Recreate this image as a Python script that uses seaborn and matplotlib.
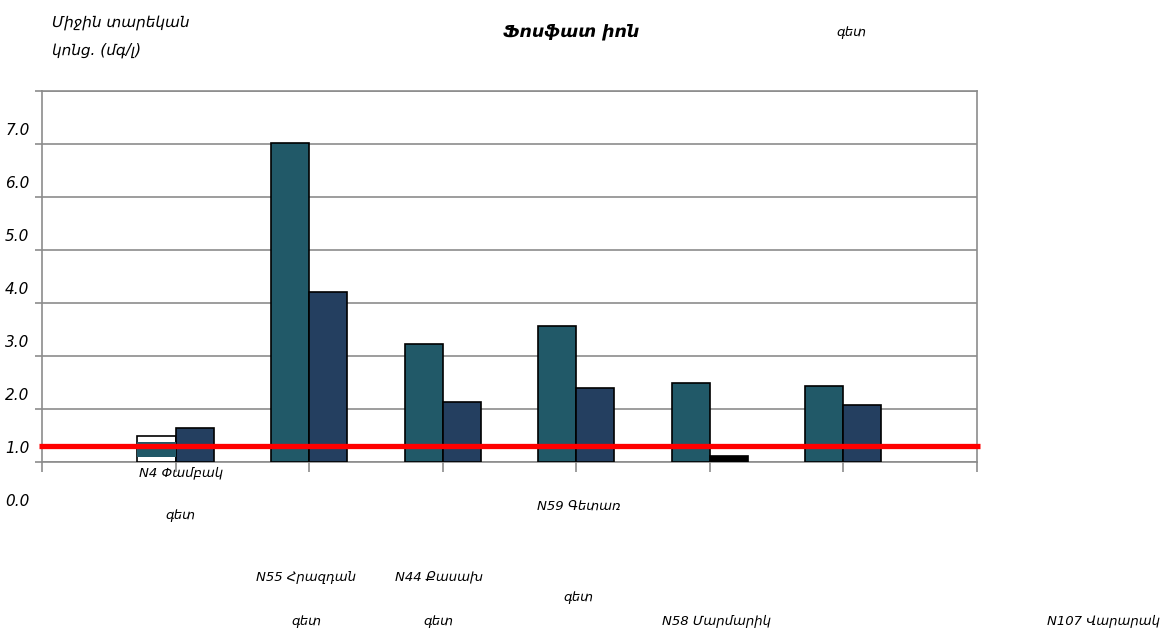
import matplotlib
matplotlib.use("Agg")
import matplotlib.pyplot as plt
import matplotlib.transforms as mtransforms
from matplotlib.patches import Rectangle
import seaborn as sns
import pandas as pd

# Stations (river monitoring points) and two series of mean annual phosphate-ion concentration
stations = ["N4 Փամբակ գետ", "N55 Հրազդան գետ", "N44 Քասախ գետ",
            "N59 Գետառ գետ", "N58 Մարմարիկ գետ", "N107 Վարարակ գետ"]
series_names = ["series_a", "series_b"]
series_a = [0.49, 6.02, 2.23, 2.57, 1.49, 1.43]
series_b = [0.64, 3.21, 1.13, 1.40, 0.11, 1.08]
limit_value = 0.30
ytick_values = [0, 1, 2, 3, 4, 5, 6, 7]
ytick_labels = ["0.0", "1.0", "2.0", "3.0", "4.0", "5.0", "6.0", "7.0"]

title = "Ֆոսֆատ իոն"
ylabel_lines = ["Միջին տարեկան", "կոնց. (մգ/լ)"]

TEAL = "#215968"
NAVY = "#243F60"
GRID = "#8c8c8c"

df = pd.DataFrame({
    "station": stations * 2,
    "series": [series_names[0]] * len(stations) + [series_names[1]] * len(stations),
    "value": series_a + series_b,
})

sns.set_style("white")
plt.rcParams["font.family"] = ["DejaVu Sans"]
plt.rcParams["text.color"] = "black"
plt.rcParams["ytick.labelcolor"] = "black"

fig = plt.figure(figsize=(11.72, 6.35), dpi=100)
ax = fig.add_axes([0.0358, 0.2724, 0.7978, 0.5843])

sns.barplot(data=df, x="station", y="value", hue="series", order=stations,
            hue_order=series_names, palette=[TEAL, NAVY], width=0.57,
            edgecolor="black", linewidth=1.2, saturation=1, legend=False,
            ax=ax, zorder=3)

# First station's bar renders hollow with a partial teal band inside
first_bar = ax.containers[0][0]
first_bar.set_facecolor("white")
bx, bw = first_bar.get_x(), first_bar.get_width()
ax.add_patch(Rectangle((bx, 0.09), bw, 0.29, facecolor=TEAL,
                       edgecolor="none", zorder=4))
# Small value for N58 second series drawn solid black
ax.containers[1][4].set_facecolor("black")

ax.set_xlim(-1, 6)
ax.set_ylim(0, 7)
ax.set_yticks(ytick_values)
ax.set_yticklabels(ytick_labels, fontstyle="italic", fontsize=11, color="black")
ax.set_xticks(range(-1, 7))
ax.set_xticklabels([])
ax.set_xlabel("")
ax.set_ylabel("")
ax.tick_params(axis="y", direction="out", length=5, width=1.2, color=GRID, pad=4, left=True)
ax.tick_params(axis="x", direction="out", length=7, width=1.2, color=GRID, bottom=True)

# Tick labels sit lower than their gridlines
shift = mtransforms.ScaledTranslation(0, -0.38, fig.dpi_scale_trans)
for lab in ax.get_yticklabels():
    lab.set_transform(lab.get_transform() + shift)

ax.yaxis.grid(True, color=GRID, linewidth=1.2, zorder=0)
ax.set_axisbelow(True)
for side in ["left", "right", "bottom", "top"]:
    ax.spines[side].set_visible(True)
    ax.spines[side].set_color(GRID)
    ax.spines[side].set_linewidth(1.2)

# Reference limit line
ax.hlines(limit_value, -1.02, 6.02, color="#ff0000", linewidth=3.8, zorder=6, clip_on=False)

# Title and axis caption
fig.text(571 / 1172, 1 - 31 / 635, title, ha="center", va="center",
         fontsize=12.5, fontweight="bold", fontstyle="italic")
fig.text(52 / 1172, 1 - 22 / 635, ylabel_lines[0], ha="left", va="center",
         fontsize=11, fontstyle="italic")
fig.text(52 / 1172, 1 - 50 / 635, ylabel_lines[1], ha="left", va="center",
         fontsize=11, fontstyle="italic")

# Station names, each split into a name line and a "river" line
label_rows = [
    # (x in category units, first-line y px, second-line y px)
    (0.04, 473, 516),
    (0.98, 577, 622),
    (1.97, 577, 622),
    (3.02, 506, 598),
    (4.05, 622, None),
    (6.95, 622, None),
]
xform = mtransforms.blended_transform_factory(ax.transData, fig.transFigure)
for name, (xc, y1, y2) in zip(stations, label_rows):
    first, second = name.rsplit(" ", 1)
    ax.text(xc, 1 - y1 / 635, first, transform=xform, ha="center", va="center",
            fontsize=9.5, fontstyle="italic", clip_on=False)
    if y2 is not None:
        ax.text(xc, 1 - y2 / 635, second, transform=xform, ha="center", va="center",
                fontsize=9.5, fontstyle="italic", clip_on=False)
# The remaining "river" word ends up near the top
ax.text(5.06, 1 - 33 / 635, stations[4].rsplit(" ", 1)[1], transform=xform,
        ha="center", va="center", fontsize=9.5, fontstyle="italic", clip_on=False)

fig.savefig("out.png", dpi=100)
